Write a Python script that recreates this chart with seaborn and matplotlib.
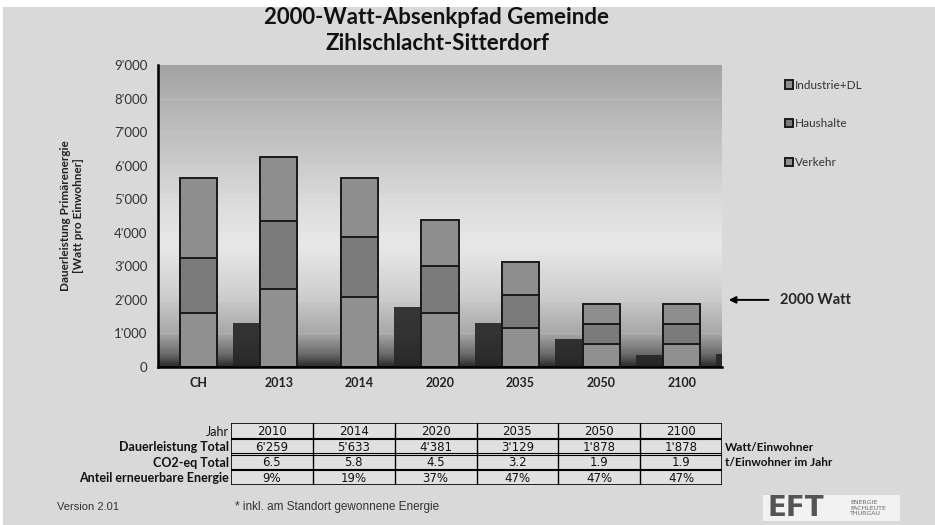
import matplotlib
matplotlib.use("Agg")
import matplotlib.pyplot as plt
import seaborn as sns
import pandas as pd
import numpy as np
from matplotlib.colors import LinearSegmentedColormap
from matplotlib.patches import Rectangle
from matplotlib.ticker import FuncFormatter, MultipleLocator

# chart values
categories = ["CH", "2013", "2014", "2020", "2035", "2050", "2100"]
verkehr = [1600, 2320, 2080, 1610, 1160, 680, 680]
haushalte = [1640, 2030, 1790, 1390, 980, 600, 600]
industrie = [2390, 1910, 1760, 1380, 990, 590, 590]
shadow = [0, 1300, 0, 1780, 1300, 830, 360, 400]

table_years = ["2010", "2014", "2020", "2035", "2050", "2100"]
table_power = ["6'259", "5'633", "4'381", "3'129", "1'878", "1'878"]
table_co2 = ["6.5", "5.8", "4.5", "3.2", "1.9", "1.9"]
table_renew = ["9%", "19%", "37%", "47%", "47%", "47%"]
row_labels = ["Jahr", "Dauerleistung Total", "CO2-eq Total", "Anteil erneuerbare Energie"]
row_units = ["", "Watt/Einwohner", "t/Einwohner im Jahr", ""]

sns.set_style("white")
plt.rcParams["font.family"] = ["Lato", "DejaVu Sans"]

df = pd.DataFrame({"cat": categories, "Verkehr": verkehr,
                   "Haushalte": haushalte, "Industrie+DL": industrie})
df["h_top"] = df["Verkehr"] + df["Haushalte"] + df["Industrie+DL"]
df["h_mid"] = df["Verkehr"] + df["Haushalte"]

fig = plt.figure(figsize=(9.35, 5.25), dpi=100)
fig.patch.set_facecolor("white")
fig.add_artist(Rectangle((3 / 935, 0), 1, 1 - 7 / 525, transform=fig.transFigure,
                         facecolor="#d9d9d9", edgecolor="none", zorder=-10))

ax = fig.add_axes([158 / 935, 1 - 367 / 525, 564 / 935, 302 / 525])

# background gradient of the plot area
bg = LinearSegmentedColormap.from_list("bg", [
    (0.0, "#2a2a2a"), (0.04, "#6a6a6a"), (0.11, "#a8a8a8"), (0.24, "#cfcfcf"),
    (0.40, "#e8e8e8"), (0.52, "#dedede"), (0.75, "#c2c2c2"), (1.0, "#a3a3a3")])
grad = np.linspace(0, 1, 256).reshape(-1, 1)
ax.imshow(grad, cmap=bg, aspect="auto", origin="lower",
          extent=[-0.5, 6.5, 0, 9000], zorder=0)
for y in range(1000, 9000, 1000):
    ax.axhline(y, color="white", alpha=0.12, lw=1, zorder=0.5)

# dark shadow bars between the categories
ax.bar(np.arange(len(shadow)) - 0.39, shadow, width=0.36, color="#262626",
       alpha=0.9, edgecolor="none", linewidth=0, zorder=1)

bar_kw = dict(width=0.46, edgecolor="#1a1a1a", linewidth=1.4, zorder=2,
              saturation=1, legend=False)
sns.barplot(data=df, x="cat", y="h_top", color="#8e8e8e", label="Industrie+DL",
            ax=ax, **bar_kw)
sns.barplot(data=df, x="cat", y="h_mid", color="#7b7b7b", label="Haushalte",
            ax=ax, **bar_kw)
sns.barplot(data=df, x="cat", y="Verkehr", color="#909090", label="Verkehr",
            ax=ax, **bar_kw)
if ax.get_legend() is not None:
    ax.get_legend().remove()

ax.set_xlim(-0.5, 6.5)
ax.set_ylim(0, 9000)
ax.yaxis.set_major_locator(MultipleLocator(1000))
ax.yaxis.set_major_formatter(FuncFormatter(lambda v, _: f"{int(v):,}".replace(",", "'")))
ax.set_xticks(range(len(categories)))
ax.set_xticklabels(categories, fontsize=9, fontweight="bold", color="#222222")
ax.set_xticks(np.arange(-0.5, 7, 1), minor=True)
ax.tick_params(axis="x", which="major", length=0, pad=7)
ax.tick_params(axis="x", which="minor", length=4, width=1.5, direction="out", color="black")
ax.tick_params(axis="y", length=4, width=1.5, direction="out", labelsize=9.5,
               labelcolor="#333333", color="black")
ax.set_xlabel("")
ax.set_ylabel("Dauerleistung Primärenergie\n[Watt pro Einwohner]", fontsize=8.5,
              fontweight="bold", labelpad=22, color="#222222")
for s in ["top", "right"]:
    ax.spines[s].set_visible(False)
for s in ["left", "bottom"]:
    ax.spines[s].set_linewidth(1.8)
    ax.spines[s].set_color("black")

handles = [Rectangle((0, 0), 1, 1, facecolor=c, edgecolor="#1a1a1a", lw=1.4)
           for c in ["#8e8e8e", "#7b7b7b", "#909090"]]
leg = fig.legend(handles, ["Industrie+DL", "Haushalte", "Verkehr"], loc="upper left",
                 bbox_to_anchor=(774 / 935, 1 - 69 / 525), frameon=False, fontsize=8.5,
                 labelspacing=2.35, handlelength=0.7, handleheight=0.7, handletextpad=0.2)
for t in leg.get_texts():
    t.set_color("#333333")

ax.annotate("2000 Watt", xy=(1.012, 2000), xycoords=("axes fraction", "data"),
            xytext=(1.103, 2000), textcoords=("axes fraction", "data"),
            fontsize=10.5, fontweight="bold", va="center", annotation_clip=False,
            arrowprops=dict(arrowstyle="-|>", color="black", lw=1.4, shrinkA=6, shrinkB=0,
                            mutation_scale=10))

fig.text(437 / 935, 1 - 18 / 525, "2000-Watt-Absenkpfad Gemeinde", ha="center", va="center",
         fontsize=16, fontweight="bold", color="#111111")
fig.text(437 / 935, 1 - 44 / 525, "Zihlschlacht-Sitterdorf", ha="center", va="center",
         fontsize=16, fontweight="bold", color="#111111")

# summary table
tax = fig.add_axes([231 / 935, 1 - 485 / 525, 491 / 935, 62 / 525])
tax.set_xlim(0, 6)
tax.set_ylim(4, 0)
tax.axis("off")
tax.add_patch(Rectangle((0, 0), 6, 4, facecolor="#e0e0e0", edgecolor="black", lw=1.2))
for c in range(1, 6):
    tax.plot([c, c], [0, 4], color="black", lw=1)
for r in range(1, 4):
    tax.plot([0, 6], [r - 0.06, r - 0.06], color="black", lw=0.8)
    tax.plot([0, 6], [r + 0.06, r + 0.06], color="black", lw=0.8)
rows = [table_years, table_power, table_co2, table_renew]
for r, vals in enumerate(rows):
    for c, v in enumerate(vals):
        tax.text(c + 0.5, r + 0.55, v, ha="center", va="center", fontsize=8.5,
                 family=["Liberation Sans Narrow", "DejaVu Sans"], color="#111111")
    tax.text(-0.03, r + 0.55, row_labels[r], ha="right", va="center", fontsize=9,
             fontweight="normal" if r == 0 else "bold", color="#111111")
    if row_units[r]:
        tax.text(6.04, r + 0.55, row_units[r], ha="left", va="center", fontsize=8.5,
                 fontweight="bold", color="#111111")

fig.text(57 / 935, 1 - 507 / 525, "Version 2.01", fontsize=8, va="center",
         family=["Liberation Sans", "DejaVu Sans"], color="#333333")
fig.text(235 / 935, 1 - 507 / 525, "* inkl. am Standort gewonnene Energie", fontsize=8.5,
         va="center", family=["Liberation Sans", "DejaVu Sans"], color="#333333")

# logo
fig.add_artist(Rectangle((763 / 935, 1 - 521 / 525), 137 / 935, 26 / 525,
                         transform=fig.transFigure, facecolor="#f2f2f2", edgecolor="none"))
fig.text(767 / 935, 1 - 508 / 525, "EFT", fontsize=20, fontweight="black", va="center",
         color="#555555", family=["DejaVu Sans"])
fig.text(850 / 935, 1 - 508 / 525, "ENERGIE\nFACHLEUTE\nTHURGAU", fontsize=4.5, va="center",
         color="#666666", linespacing=1.1, family=["DejaVu Sans"])

fig.savefig("out.png", dpi=100)
